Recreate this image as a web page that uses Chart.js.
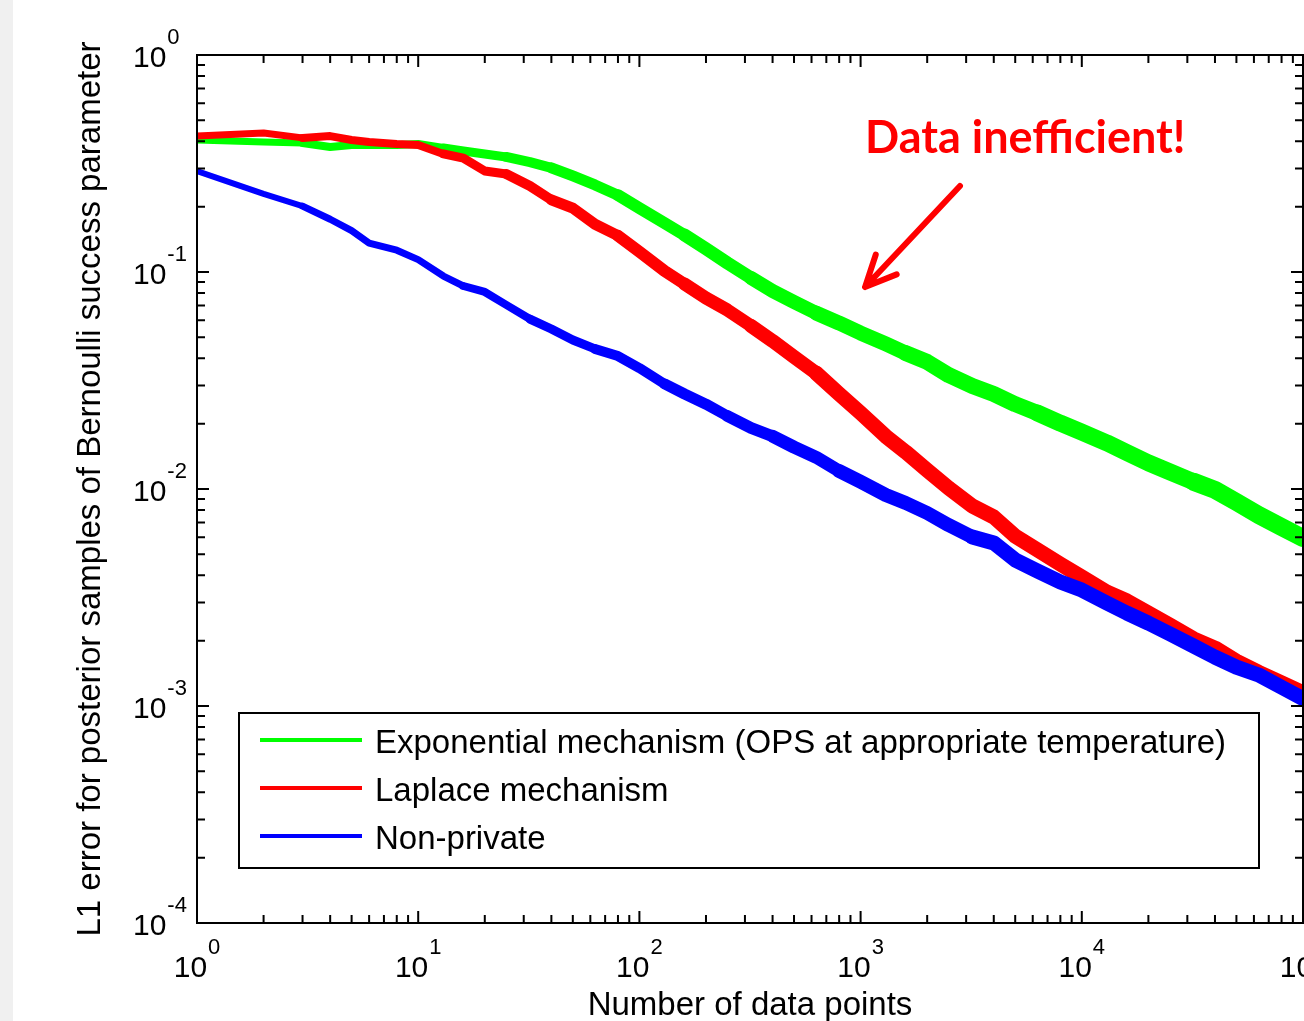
<!DOCTYPE html>
<html>
<head>
<meta charset="utf-8">
<script src="https://cdn.jsdelivr.net/npm/chart.js@4.4.0/dist/chart.umd.min.js"></script>
<style>
  html, body { margin: 0; padding: 0; width: 1304px; height: 1021px; overflow: hidden; }
  body { background: linear-gradient(to right, #f0f0f0 0px, #f0f0f0 13px, #ffffff 13px); }
  #wrap { position: absolute; left: 0; top: 0; width: 1400px; height: 1060px; }
  canvas { display: block; }
</style>
</head>
<body>
<div id="wrap"><canvas id="c" width="1400" height="1060"></canvas></div>
<script>
// ---------------- data ----------------
const N = [1, 2, 3, 4, 5, 6, 8, 10,
  13, 16, 20, 25, 32, 40, 50, 63, 80, 100,
  130, 160, 200, 250, 320, 400, 500, 630, 800, 1000,
  1300, 1600, 2000, 2500, 3200, 4000, 5000, 6300, 8000, 10000,
  13000, 16000, 20000, 25000, 32000, 40000, 50000, 63000, 80000, 100000];

const EXPONENTIAL = [0.406, 0.397, 0.393, 0.377, 0.385, 0.385, 0.385, 0.389,
  0.373, 0.361, 0.350, 0.339, 0.321, 0.302, 0.277, 0.252, 0.226, 0.197,
  0.168, 0.148, 0.128, 0.110, 0.0938, 0.0818, 0.0727, 0.0647, 0.0582, 0.0523,
  0.0466, 0.0423, 0.0385, 0.0335, 0.0298, 0.0274, 0.0246, 0.0224, 0.0201, 0.0183,
  0.0163, 0.0147, 0.0132, 0.0120, 0.0108, 0.0099, 0.00871, 0.00759, 0.00668, 0.00594];

const LAPLACE = [0.423, 0.437, 0.415, 0.423, 0.406, 0.397, 0.389, 0.385,
  0.350, 0.335, 0.292, 0.283, 0.249, 0.215, 0.197, 0.166, 0.147, 0.124,
  0.101, 0.0881, 0.0759, 0.0668, 0.0564, 0.0481, 0.0406, 0.0342, 0.0274, 0.0224,
  0.0175, 0.0148, 0.0122, 0.0101, 0.00835, 0.00743, 0.00607, 0.00524, 0.00451, 0.00393,
  0.00335, 0.00305, 0.00268, 0.00236, 0.00204, 0.00185, 0.00161, 0.00143, 0.00128, 0.00115];

const NON_PRIVATE = [0.292, 0.229, 0.201, 0.175, 0.155, 0.136, 0.126, 0.114,
  0.0958, 0.0862, 0.0809, 0.0705, 0.0607, 0.0546, 0.0486, 0.0442, 0.0410, 0.0361,
  0.0305, 0.0274, 0.0246, 0.0217, 0.0191, 0.0175, 0.0156, 0.0140, 0.0121, 0.0108,
  0.00938, 0.00862, 0.00775, 0.00682, 0.00601, 0.00564, 0.00471, 0.00419, 0.00373, 0.00342,
  0.00298, 0.00268, 0.00241, 0.00215, 0.00189, 0.00168, 0.00151, 0.00139, 0.00122, 0.00108];

const SERIES_LABELS = ['Exponential mechanism (OPS at appropriate temperature)', 'Laplace mechanism', 'Non-private'];
const X_TICK_EXPONENTS = [0, 1, 2, 3, 4, 5];
const Y_TICK_EXPONENTS = [-4, -3, -2, -1, 0];
const X_TITLE = 'Number of data points';
const Y_TITLE = 'L1 error for posterior samples of Bernoulli success parameter';
const ANNOTATION_TEXT = 'Data inefficient!';
// annotation anchors in data coordinates
const ANNOTATION_TEXT_AT = { x: 1048, y: 0.3535 };
const ARROW_TAIL = { x: 2813, y: 0.249 };
const ARROW_TIP = { x: 1048, y: 0.0853 };

// ---------------- styles ----------------
const FONT = '"Liberation Sans", Arial, Helvetica, sans-serif';
const COLORS = ['#00ff00', '#ff0000', '#0000ff'];
// visual band thickness (noise of the dense samples) vs log10(n)
const WIDTH_PROFILES = [
  [[0, 7], [1, 8], [2, 12], [3, 15], [4, 17], [5, 18]],
  [[0, 7], [1, 8], [2, 12], [3, 15], [4, 15], [5, 15]],
  [[0, 6], [1, 7], [2, 10], [3, 14], [4, 15], [5, 15]]
];
function widthAt(profile, n) {
  const L = Math.log10(n);
  if (L <= profile[0][0]) return profile[0][1];
  for (let i = 1; i < profile.length; i++) {
    if (L <= profile[i][0]) {
      const [a, wa] = profile[i - 1], [b, wb] = profile[i];
      return Math.round(wa + (wb - wa) * (L - a) / (b - a));
    }
  }
  return profile[profile.length - 1][1];
}

const SERIES = [EXPONENTIAL, LAPLACE, NON_PRIVATE];
const ORDERS = [3, 2, 1];
const datasets = SERIES.map((vals, i) => ({
  label: SERIES_LABELS[i],
  data: N.map((n, j) => ({ x: n, y: vals[j] })),
  borderColor: COLORS[i],
  backgroundColor: COLORS[i],
  borderWidth: 4,
  borderCapStyle: 'round',
  borderJoinStyle: 'round',
  pointRadius: 0,
  tension: 0,
  fill: false,
  clip: 0,
  order: ORDERS[i],
  segment: {
    borderWidth: c => widthAt(WIDTH_PROFILES[i], Math.sqrt(c.p0.parsed.x * c.p1.parsed.x))
  }
}));

const TICK_FONT = '30px ' + FONT;
const SUP_FONT = '22px ' + FONT;

function drawPow(ctx, exp, x, baseline, align) {
  const base = '10';
  const e = String(exp);
  ctx.font = TICK_FONT;
  const wb = ctx.measureText(base).width;
  ctx.font = SUP_FONT;
  const we = ctx.measureText(e).width;
  const left = align === 'center' ? x - (wb + we + 1) / 2 : x;
  ctx.textAlign = 'left';
  ctx.textBaseline = 'alphabetic';
  ctx.fillStyle = '#000';
  ctx.font = TICK_FONT;
  ctx.fillText(base, left, baseline);
  ctx.font = SUP_FONT;
  ctx.fillText(e, left + wb + 1, baseline - 23);
}

const matlabLook = {
  id: 'matlabLook',
  afterDatasetsDraw(chart) {
    const { ctx, chartArea: ca, scales } = chart;
    const xs = scales.x, ys = scales.y;
    ctx.save();

    // ticks (inward, all four sides)
    ctx.strokeStyle = '#000';
    ctx.lineWidth = 2;
    ctx.beginPath();
    const xe0 = X_TICK_EXPONENTS[0], xe1 = X_TICK_EXPONENTS[X_TICK_EXPONENTS.length - 1];
    for (let d = xe0; d <= xe1; d++) {
      for (let k = 1; k <= 9; k++) {
        if (d === xe1 && k > 1) break;
        const px = xs.getPixelForValue(k * Math.pow(10, d));
        const len = k === 1 ? 12 : 8;
        ctx.moveTo(px, ca.bottom); ctx.lineTo(px, ca.bottom - len);
        ctx.moveTo(px, ca.top); ctx.lineTo(px, ca.top + len);
      }
    }
    const ye0 = Y_TICK_EXPONENTS[0], ye1 = Y_TICK_EXPONENTS[Y_TICK_EXPONENTS.length - 1];
    for (let d = ye0; d <= ye1; d++) {
      for (let k = 1; k <= 9; k++) {
        if (d === ye1 && k > 1) break;
        const py = ys.getPixelForValue(k * Math.pow(10, d));
        const len = k === 1 ? 12 : 8;
        ctx.moveTo(ca.left, py); ctx.lineTo(ca.left + len, py);
        ctx.moveTo(ca.right, py); ctx.lineTo(ca.right - len, py);
      }
    }
    ctx.stroke();

    // frame
    ctx.lineWidth = 2;
    ctx.strokeRect(ca.left, ca.top, ca.right - ca.left, ca.bottom - ca.top);

    // tick labels
    X_TICK_EXPONENTS.forEach(e => {
      drawPow(ctx, e, xs.getPixelForValue(Math.pow(10, e)), ca.bottom + 54, 'center');
    });
    Y_TICK_EXPONENTS.forEach(e => {
      drawPow(ctx, e, ca.left - 64, ys.getPixelForValue(Math.pow(10, e)) + 11.5, 'left');
    });

    // legend box (inside axes)
    const lx = ca.left + 42, ly = ca.top + 658, lw = 1020, lh = 155;
    ctx.fillStyle = '#ffffff';
    ctx.fillRect(lx, ly, lw, lh);
    ctx.strokeStyle = '#000';
    ctx.lineWidth = 2;
    ctx.strokeRect(lx, ly, lw, lh);
    chart.data.datasets.forEach((ds, i) => {
      const ry = ly + 27 + i * 48;
      ctx.strokeStyle = ds.borderColor;
      ctx.lineWidth = 4;
      ctx.lineCap = 'butt';
      ctx.beginPath();
      ctx.moveTo(lx + 21, ry); ctx.lineTo(lx + 123, ry);
      ctx.stroke();
      ctx.fillStyle = '#000';
      ctx.font = '33px ' + FONT;
      ctx.textAlign = 'left';
      ctx.textBaseline = 'alphabetic';
      ctx.fillText(ds.label, lx + 136, ry + 13);
    });
    ctx.restore();

    // annotation: text + arrow (anchored in data coordinates)
    ctx.save();
    ctx.fillStyle = '#ff0000';
    ctx.strokeStyle = '#ff0000';
    ctx.font = 'bold 45px Lato, "Open Sans", sans-serif';
    ctx.textAlign = 'left';
    ctx.textBaseline = 'alphabetic';
    ctx.fillText(ANNOTATION_TEXT, xs.getPixelForValue(ANNOTATION_TEXT_AT.x), ys.getPixelForValue(ANNOTATION_TEXT_AT.y));
    const tx = xs.getPixelForValue(ARROW_TAIL.x), ty = ys.getPixelForValue(ARROW_TAIL.y);
    const hx = xs.getPixelForValue(ARROW_TIP.x), hy = ys.getPixelForValue(ARROW_TIP.y);
    const ang = Math.atan2(ty - hy, tx - hx);
    const armLen = 34, spread = 25 * Math.PI / 180;
    ctx.lineWidth = 6;
    ctx.lineCap = 'round';
    ctx.lineJoin = 'round';
    ctx.beginPath();
    ctx.moveTo(tx, ty); ctx.lineTo(hx, hy);
    ctx.moveTo(hx + armLen * Math.cos(ang - spread), hy + armLen * Math.sin(ang - spread));
    ctx.lineTo(hx, hy);
    ctx.lineTo(hx + armLen * Math.cos(ang + spread), hy + armLen * Math.sin(ang + spread));
    ctx.stroke();
    ctx.restore();
  }
};

new Chart(document.getElementById('c'), {
  type: 'line',
  data: { datasets },
  options: {
    responsive: false,
    animation: false,
    devicePixelRatio: 1,
    layout: { padding: { left: 0, top: 55, right: 97, bottom: 0 } },
    plugins: { legend: { display: false }, tooltip: { enabled: false } },
    scales: {
      x: {
        type: 'logarithmic',
        min: Math.pow(10, X_TICK_EXPONENTS[0]),
        max: Math.pow(10, X_TICK_EXPONENTS[X_TICK_EXPONENTS.length - 1]),
        grid: { display: false },
        border: { display: false },
        ticks: { display: false },
        title: {
          display: true, text: X_TITLE, color: '#000',
          font: { family: FONT, size: 33 },
          padding: { top: 0, bottom: 34.7 }
        },
        afterFit: s => { s.height = 137; }
      },
      y: {
        type: 'logarithmic',
        min: Math.pow(10, Y_TICK_EXPONENTS[0]),
        max: Math.pow(10, Y_TICK_EXPONENTS[Y_TICK_EXPONENTS.length - 1]),
        grid: { display: false },
        border: { display: false },
        ticks: { display: false },
        title: {
          display: true, text: Y_TITLE, color: '#000',
          font: { family: FONT, size: 33 },
          padding: { top: 70.7, bottom: 0 }
        },
        afterFit: s => { s.width = 197; }
      }
    }
  },
  plugins: [matlabLook]
});
</script>
</body>
</html>
